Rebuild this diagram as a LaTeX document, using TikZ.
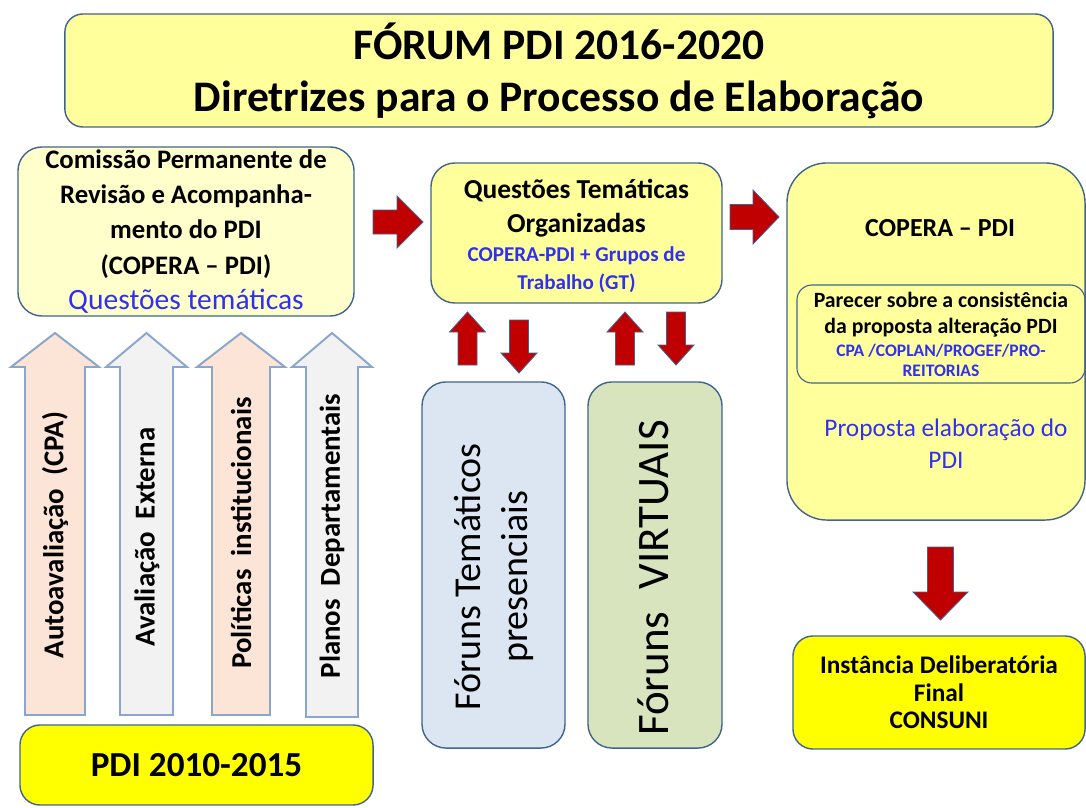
\documentclass[tikz,border=0pt]{standalone}
\usepackage{fontspec}
\setmainfont{Carlito}

\definecolor{boxline}{HTML}{41648F}
\definecolor{paleyellow}{HTML}{FFFF9C}
\definecolor{lightyellow}{HTML}{FFFFCC}
\definecolor{brightyellow}{HTML}{FFFF00}
\definecolor{arrowred}{HTML}{C00000}
\definecolor{arrowline}{HTML}{8AA6D0}
\definecolor{peach}{HTML}{FCE4D6}
\definecolor{palegray}{HTML}{F2F2F2}
\definecolor{forumblue}{HTML}{DCE6F2}
\definecolor{forumgreen}{HTML}{D7E4BD}
\definecolor{textblue}{HTML}{3030F0}

\tikzset{
  box/.style={draw=boxline, line width=1pt, rounded corners=0.6cm, align=center, inner sep=0pt},
  redarrow/.style={draw=boxline, fill=arrowred, line width=0.6pt},
  inputarrow/.style={draw=arrowline, line width=1.4pt},
  vlabel/.style={rotate=90, font=\fontsize{20.5}{24}\selectfont\bfseries},
  % block arrow pointing up from its tail: length / half shaft / half head / head length
  pics/blockarrow/.style args={#1/#2/#3/#4}{code={
    \path[pic actions] (-#2,0) -- (-#2,-#1+#4) -- (-#3,-#1+#4) -- (0,-#1)
      -- (#3,-#1+#4) -- (#2,-#1+#4) -- (#2,0) -- cycle;
  }}
}

\begin{document}
\begin{tikzpicture}[x=0.025cm, y=-0.025cm]
      \useasboundingbox (0,0) rectangle (1086,808);

      % Nodes
      \node[box, fill=paleyellow, rounded corners=0.45cm, minimum width=24.7cm, minimum height=2.825cm, font=\fontsize{31}{37}\selectfont\bfseries] (title) at (559,70.5)
      {FÓRUM PDI 2016-2020\\Diretrizes para o Processo de Elaboração};

      \node[box, fill=lightyellow, minimum width=8.4cm, minimum height=4.225cm, font=\fontsize{19}{25}\selectfont\bfseries] (copera) at (186,231.5)
      {Comissão Permanente de\\Revisão e Acompanha-\\mento do PDI\\(COPERA – PDI)\\{\mdseries\fontsize{21}{25}\selectfont\color{textblue}Questões temáticas}};

      \node[box, fill=paleyellow, minimum width=7.275cm, minimum height=3.5cm] (questoes) at (576.5,233) {};
      \node[align=center, font=\fontsize{19.5}{24}\selectfont\bfseries] (questoeslabel) at (576.5,236)
      {Questões Temáticas\\Organizadas\\[-3.5pt]{\fontsize{15}{19}\selectfont\color{textblue}COPERA-PDI + Grupos de}\\[-4.3pt]{\fontsize{15}{19}\selectfont\color{textblue}Trabalho (GT)}};

      \node[box, fill=paleyellow, rounded corners=1cm, minimum width=7.45cm, minimum height=8.925cm] (coperapdi) at (936,341.5) {};
      \node[font=\fontsize{18.5}{22}\selectfont\bfseries] (coperalabel) at (940,228) {COPERA – PDI};
      \node[box, rounded corners=0.375cm, line width=0.8pt, minimum width=7.2cm, minimum height=2.45cm] (parecer) at (941,334) {};
      \node[align=center, font=\fontsize{15.5}{19}\selectfont\bfseries] (parecerlabel) at (941,334)
      {Parecer sobre a consistência\\da proposta alteração PDI\\[-3pt]{\fontsize{12.5}{14}\selectfont\color{textblue}CPA /COPLAN/PROGEF/PRO-}\\[-5pt]{\fontsize{12.5}{14}\selectfont\color{textblue}REITORIAS}};
      \node[align=center, text=textblue, font=\fontsize{18}{22.8}\selectfont] (proposta) at (946,444) {Proposta elaboração do\\PDI};

      \node[box, fill=brightyellow, rounded corners=0.5cm, minimum width=7.3cm, minimum height=2.825cm, font=\fontsize{18}{19.6}\selectfont\bfseries] (consuni) at (939,692.5)
      {Instância Deliberatória\\Final\\CONSUNI};

      \node[box, fill=brightyellow, rounded corners=0.5cm, minimum width=8.825cm, minimum height=2cm, font=\fontsize{25}{30}\selectfont\bfseries] (pdiold) at (196.5,765)
      {PDI 2010-2015};

      \node[box, fill=forumblue, minimum width=3.575cm, minimum height=9.15cm] (presencial) at (493.5,565) {};
      \node[rotate=90, align=center, font=\fontsize{27}{34}\selectfont] (presenciallabel) at (494,577) {Fóruns Temáticos\\presenciais};
      \node[box, fill=forumgreen, minimum width=3.35cm, minimum height=9.15cm] (virtual) at (655,565) {};
      \node[rotate=90, font=\fontsize{32}{38}\selectfont] (virtuallabel) at (653,578) {Fóruns\hspace{0.5em}VIRTUAIS};

      % Input arrows
      \pic[inputarrow, fill=peach] (autoarrow) at (55,715) {blockarrow=382/30/44/34};
      \pic[inputarrow, fill=palegray] (externaarrow) at (146.5,715) {blockarrow=382/26.5/40.5/34};
      \pic[inputarrow, fill=peach] (politicasarrow) at (241,715) {blockarrow=382/29/44/34};
      \pic[inputarrow, fill=palegray] (planosarrow) at (332,717) {blockarrow=384/26/40/34};
      \node[vlabel] (autolabel) at (55,535) {Autoavaliação\ \ (CPA)};
      \node[vlabel] (externalabel) at (147,537) {Avaliação\ \ Externa};
      \node[vlabel] (politicaslabel) at (241,533) {Políticas\ \ institucionais};
      \node[vlabel] (planoslabel) at (332,536) {Planos\ \ Departamentais};

      % Connections
      \pic[redarrow, rotate=-90] (toquestoes) at (373,222) {blockarrow=50/12/26/26};
      \pic[redarrow, rotate=-90] (tocopera) at (730,217) {blockarrow=49/12.5/27/26};
      \pic[redarrow] (presencialup) at (467.5,365) {blockarrow=53/9.5/18/20};
      \pic[redarrow, rotate=180] (presencialdown) at (519,320) {blockarrow=53/9.5/18/20};
      \pic[redarrow] (virtualup) at (625,365) {blockarrow=53/9.5/18/20};
      \pic[redarrow, rotate=180] (virtualdown) at (676,312) {blockarrow=53/9.5/18/20};
      \pic[redarrow, rotate=180] (toconsuni) at (940.5,547) {blockarrow=73/13/27.5/28};
\end{tikzpicture}
\end{document}
